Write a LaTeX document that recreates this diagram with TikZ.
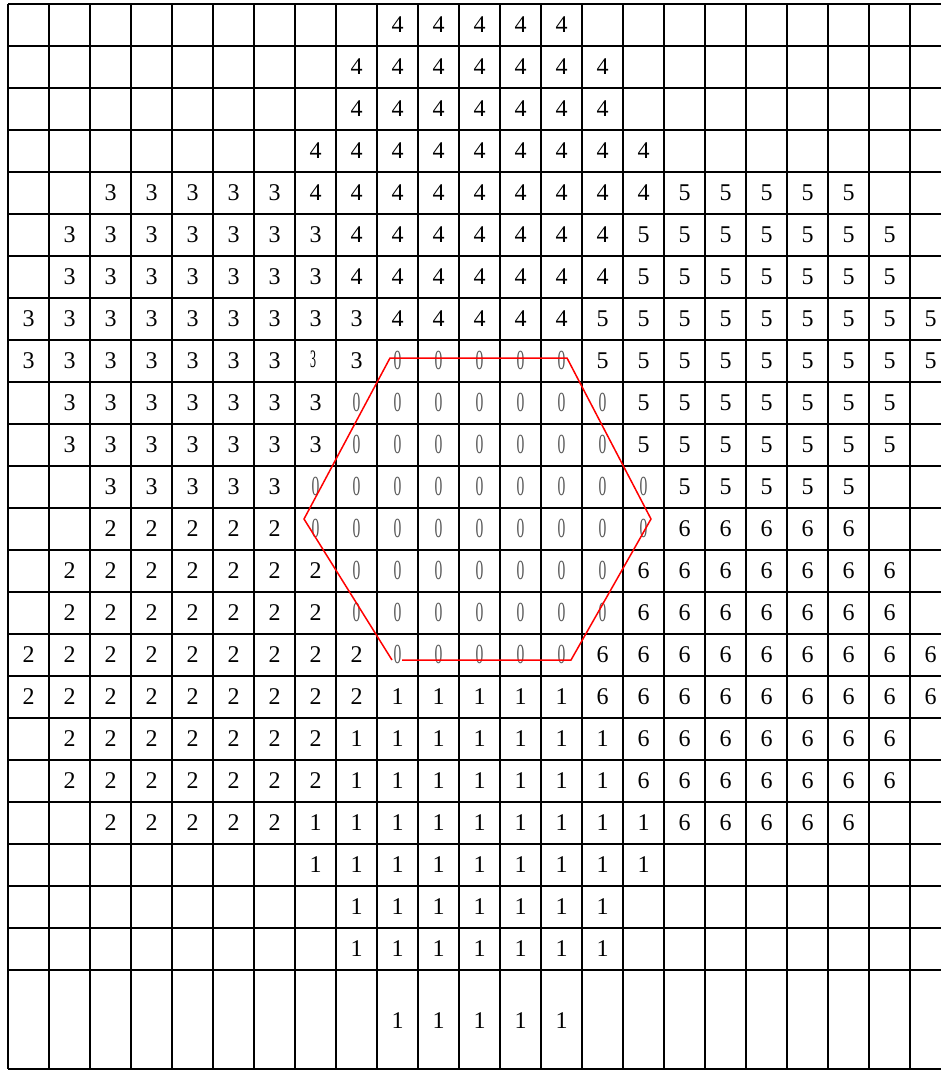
\documentclass[tikz,border=0pt]{standalone}
\usepackage{fontspec}
\setmainfont{Liberation Serif}
\usepackage{graphicx}
\begin{document}
\begin{tikzpicture}[x=1pt,y=-1pt,
  gridline/.style={line width=1.5pt,black},
  num/.style={inner sep=0pt,font=\fontsize{24}{24}\selectfont},
  zero/.style={num,text=black!65},
  hex/.style={red,line width=1.5pt,line join=miter}]
\useasboundingbox (0,0) rectangle (941,1070);
\fill[white] (0,0) rectangle (941,1070);
% grid
\foreach \k in {0,...,22} \draw[gridline] (8+41*\k,4) -- (8+41*\k,1069);
\foreach \j in {0,...,23} \draw[gridline] (8,4+42*\j) -- (941,4+42*\j);
\draw[gridline] (8,1069) -- (941,1069);
% numbers
\foreach \r/\a/\b/\d in {
 0/9/13/4,
 1/8/14/4, 2/8/14/4, 3/7/15/4,
 4/2/6/3, 4/7/15/4, 4/16/20/5,
 5/1/7/3, 5/8/14/4, 5/15/21/5,
 6/1/7/3, 6/8/14/4, 6/15/21/5,
 7/0/8/3, 7/9/13/4, 7/14/22/5,
 8/0/6/3, 8/8/8/3, 8/14/22/5,
 9/1/7/3, 9/15/21/5,
 10/1/7/3, 10/15/21/5,
 11/2/6/3, 11/16/20/5,
 12/2/6/2, 12/16/20/6,
 13/1/7/2, 13/15/21/6,
 14/1/7/2, 14/15/21/6,
 15/0/8/2, 15/14/22/6,
 16/0/8/2, 16/9/13/1, 16/14/22/6,
 17/1/7/2, 17/8/14/1, 17/15/21/6,
 18/1/7/2, 18/8/14/1, 18/15/21/6,
 19/2/6/2, 19/7/15/1, 19/16/20/6,
 20/7/15/1, 21/8/14/1, 22/8/14/1}
 \foreach \c in {\a,...,\b}
  \node[num] (n\r-\c) at (28.5+41*\c, 25+42*\r) {\d};
\foreach \c in {9,...,13}
  \node[num] (n23-\c) at (28.5+41*\c, 1021) {1};
% small condensed 3
\node[num] (n8-7) at (313,359) {\scalebox{0.5}[1.05]{3}};
% zeros
\foreach \r/\a/\b in {8/9/13, 9/8/14, 10/8/14, 11/7/15, 12/7/15, 13/8/14, 14/8/14, 15/9/13}
 \foreach \c in {\a,...,\b}
  \node[zero] (n\r-\c) at (28.5+41*\c, 24+42*\r) {\scalebox{0.65}[1.15]{0}};
% hexagon
\coordinate (h1) at (390,358);
\coordinate (h2) at (567,358);
\coordinate (h3) at (651,519);
\coordinate (h4) at (571,660);
\coordinate (h5) at (402,660);
\coordinate (h6) at (392,660);
\coordinate (h7) at (304,519);
\draw[hex] (h5) -- (h4) -- (h3) -- (h2) -- (h1) -- (h7) -- (h6);
\end{tikzpicture}
\end{document}
